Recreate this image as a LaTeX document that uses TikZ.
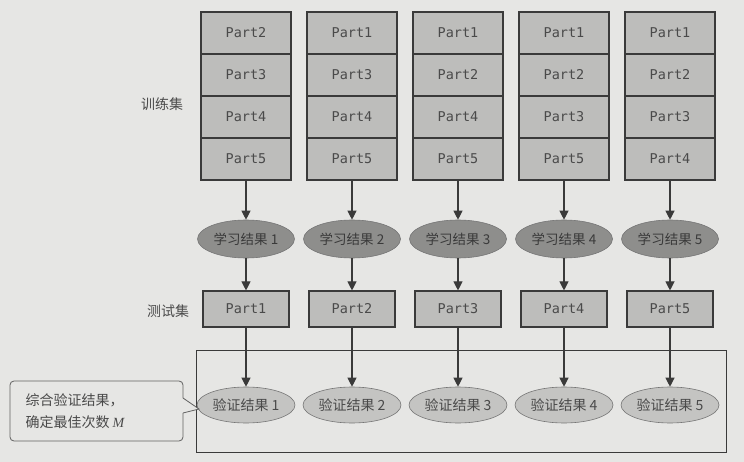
\documentclass[tikz,border=0pt]{standalone}
\usepackage{fontspec}
\setmainfont{Liberation Serif}
\newfontfamily\cjk{Noto Sans CJK SC}
\newfontfamily\monof{DejaVu Sans Mono}
\usetikzlibrary{arrows.meta,shapes.geometric}
\definecolor{bg}{HTML}{E6E6E4}
\definecolor{boxfill}{HTML}{BDBDBB}
\definecolor{darkell}{HTML}{8E8E8C}
\definecolor{lightell}{HTML}{C4C4C2}
\definecolor{ink}{HTML}{3A3A3A}
\definecolor{txt}{HTML}{4A4A4A}
\tikzset{
  partbox/.style={draw=ink, line width=1.1pt, fill=boxfill, minimum width=90pt, minimum height=42pt,
    inner sep=0pt, text=txt, font=\monof\fontsize{13.5}{13.5}\selectfont},
  testbox/.style={partbox, minimum width=86pt, minimum height=36pt},
  learnell/.style={ellipse, draw=ink!70, line width=0.6pt, fill=darkell, minimum width=97pt, minimum height=38pt,
    inner sep=0pt, text=ink, font=\cjk\fontsize{13.5}{13.5}\selectfont},
  valell/.style={ellipse, draw=ink!70, line width=0.6pt, fill=lightell, minimum width=98pt, minimum height=36pt,
    inner sep=0pt, text=txt, font=\cjk\fontsize{14}{14}\selectfont},
  arr/.style={draw=ink, line width=1.1pt, -{Triangle[length=9pt,width=9pt]}},
  sidelabel/.style={text=txt, font=\cjk\fontsize{14}{14}\selectfont},
}
\begin{document}
\begin{tikzpicture}[x=1pt,y=-1pt]
\fill[bg] (0,0) rectangle (744,462);
\useasboundingbox (0,0) rectangle (744,462);
% big frame
\node[draw=ink, line width=1pt, minimum width=530pt, minimum height=102pt, inner sep=0pt] (frame) at (461,401) {};
\foreach \i/\a/\b/\c/\d in {1/2/3/4/5, 2/1/3/4/5, 3/1/2/4/5, 4/1/2/3/5, 5/1/2/3/4}{
  \pgfmathsetmacro{\xx}{246+(\i-1)*106}
  \node[partbox] (s\i-1) at (\xx,33) {Part\a};
  \node[partbox] (s\i-2) at (\xx,75) {Part\b};
  \node[partbox] (s\i-3) at (\xx,117) {Part\c};
  \node[partbox] (s\i-4) at (\xx,159) {Part\d};
  \node[learnell] (L\i) at (\xx,239) {学习结果 \i};
  \node[testbox] (T\i) at (\xx,309) {Part\i};
  \node[valell] (V\i) at (\xx,405) {验证结果 \i};
  \draw[arr] (s\i-4.south) -- (L\i.north);
  \draw[arr] (L\i.south) -- (T\i.north);
  \draw[arr] (T\i.south) -- (V\i.north);
}
\node[sidelabel] (train) at (162,104) {训练集};
\node[sidelabel] (test) at (168,311) {测试集};
% callout
\node[draw=ink!80, line width=0.8pt, rounded corners=4pt, fill=bg, minimum width=173pt, minimum height=60pt,
  inner sep=0pt] (call) at (96.5,411) {};
\node[anchor=west, align=left, text=txt, font=\cjk\fontsize{14}{22}\selectfont] (calltext) at (22,411)
  {综合验证结果，\\确定最佳次数 {\rmfamily\itshape M}};
\coordinate (tip) at (199,409);
\fill[bg] (182,398) -- (tip) -- (182,413) -- cycle;
\draw[ink!80, line width=0.8pt] (183,398) -- (tip) -- (183,413);
\end{tikzpicture}
\end{document}
